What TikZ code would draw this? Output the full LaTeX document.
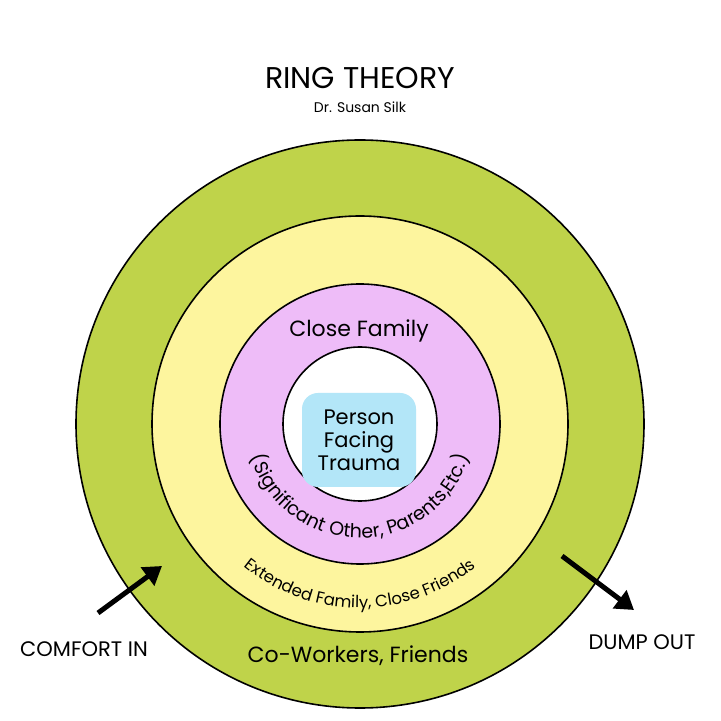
\documentclass[tikz,border=0pt]{standalone}
\usepackage{fontspec}
\setmainfont{Poppins}
\usetikzlibrary{decorations.text, arrows.meta}
\definecolor{ringgreen}{HTML}{BFD34A}
\definecolor{ringyellow}{HTML}{FDF59E}
\definecolor{ringpurple}{HTML}{EEBCF8}
\definecolor{traumablue}{HTML}{B3E6F8}
\begin{document}
\begin{tikzpicture}[x=1pt, y=1pt,
    ring/.style={draw=black, line width=1.6pt},
    label/.style={font=\fontsize{#1}{#1}\selectfont, align=center},
    push/.style={line width=5pt, -{Triangle[length=18pt, width=22pt]}}
    ]
\useasboundingbox (0,0) rectangle (721,721);

% rings
\draw[ring, fill=ringgreen]  (360,297) circle (284);
\draw[ring, fill=ringyellow] (360,297) circle (208);
\draw[ring, fill=ringpurple] (360,297) circle (140);
\draw[ring, fill=white]      (360,297) circle (77);

% centre
\node[fill=traumablue, rounded corners=16pt, minimum width=114pt, minimum height=94pt] (core) at (359,281) {};
\node[label=21] (person) at (core) {Person\\[2pt]Facing\\[2pt]Trauma};

% titles
\node[label=30] (title) at (360,643) {RING THEORY};
\node[label=14] (author) at (360,614) {Dr. Susan Silk};

% ring labels
\node[label=22] (close) at (359,390) {Close Family};
\path[decorate, decoration={text along path, text align=center,
    text={|\fontsize{19}{19}\selectfont|(Significant Other, Parents,Etc.)}}]
    (360,297) ++(185:114) arc (185:355:114);
\path[decorate, decoration={text along path, text align=center,
    text={|\fontsize{16.5}{16.5}\selectfont|Extended Family, Close Friends}}]
    (360,297) ++(215:184) arc (215:325:184);
\node[label=22] (cowork) at (358,65) {Co-Workers, Friends};

% arrows
\node[label=21] (comfort) at (84,72) {COMFORT IN};
\node[label=21] (dump) at (642,79) {DUMP OUT};
\coordinate (cin1) at (98,108);
\coordinate (cin2) at (162,155);
\coordinate (dout1) at (562,165);
\coordinate (dout2) at (634,111);
\draw[push] (cin1) -- (cin2);
\draw[push] (dout1) -- (dout2);
\end{tikzpicture}
\end{document}
